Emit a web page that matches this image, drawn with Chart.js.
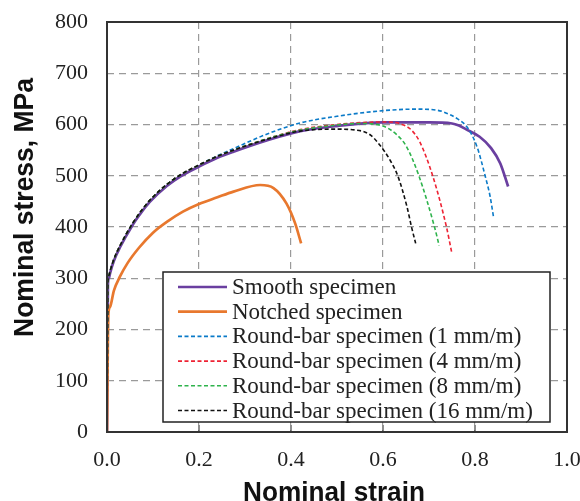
<!DOCTYPE html>
<html>
<head>
<meta charset="utf-8">
<script src="https://cdn.jsdelivr.net/npm/chart.js@4.4.1/dist/chart.umd.min.js"></script>
<style>
  html, body { margin: 0; padding: 0; background: #fff; }
  canvas { display: block; }
</style>
</head>
<body>
<canvas id="myChart" width="580" height="501"></canvas>
<script>
// axis ticks and titles
const strainTicks = [0, 0.2, 0.4, 0.6, 0.8, 1.0]
const stressTicks = [0, 100, 200, 300, 400, 500, 600, 700, 800]
const xTitle = 'Nominal strain'
const yTitle = 'Nominal stress, MPa'

// series names
const seriesNames = ['Smooth specimen', 'Notched specimen', 'Round-bar specimen (1 mm/m)',
    'Round-bar specimen (4 mm/m)', 'Round-bar specimen (8 mm/m)', 'Round-bar specimen (16 mm/m)']

// smooth specimen
const smoothStrain = [0, 0.002, 0.004, 0.007, 0.015, 0.028, 0.057, 0.075, 0.093, 0.13, 0.16, 0.2, 0.24, 0.275, 0.347, 0.42, 0.5, 0.6, 0.7, 0.75, 0.765, 0.78, 0.81, 0.835, 0.855, 0.872]
const smoothStress = [0, 290, 300, 311, 334, 360, 406, 429, 449, 480, 499, 518, 535, 547, 569, 587, 597, 604, 604, 602, 598, 591, 576, 554, 524, 479]

// notched specimen
const notchedStrain = [0, 0.003, 0.0065, 0.015, 0.028, 0.045, 0.07, 0.1, 0.13, 0.165, 0.2, 0.24, 0.275, 0.333, 0.362, 0.39, 0.409, 0.422]
const notchedStress = [0, 230, 244, 276, 303, 330, 360, 389, 410, 430, 445, 458, 469, 482, 476, 446, 407, 368]

// round-bar 1 mm/m
const rb1Strain = [0, 0.002, 0.004, 0.007, 0.015, 0.028, 0.057, 0.075, 0.093, 0.13, 0.16, 0.2, 0.24, 0.275, 0.347, 0.42, 0.5, 0.6, 0.673, 0.717, 0.746, 0.762, 0.778, 0.79, 0.805, 0.822, 0.833, 0.84]
const rb1Stress = [0, 295, 305, 315, 337, 363, 409, 432, 452, 483, 502, 521, 539, 553, 581, 603, 616, 627, 630, 628, 619, 611, 600, 585, 555, 500, 459, 421]

// round-bar 4 mm/m
const rb4Strain = [0, 0.002, 0.004, 0.007, 0.015, 0.028, 0.057, 0.075, 0.093, 0.13, 0.16, 0.2, 0.24, 0.275, 0.347, 0.42, 0.5, 0.6, 0.625, 0.645, 0.662, 0.68, 0.708, 0.738, 0.749]
const rb4Stress = [0, 295, 305, 315, 337, 363, 409, 432, 452, 483, 502, 521, 538, 550, 572, 590, 600, 605, 604, 599, 589, 566, 500, 400, 352]

// round-bar 8 mm/m
const rb8Strain = [0, 0.002, 0.004, 0.007, 0.015, 0.028, 0.057, 0.075, 0.093, 0.13, 0.16, 0.2, 0.24, 0.275, 0.347, 0.42, 0.5, 0.55, 0.6, 0.63, 0.651, 0.678, 0.712, 0.722]
const rb8Stress = [0, 295, 305, 315, 337, 363, 409, 432, 452, 483, 502, 521, 538, 550, 572, 589, 599, 602, 597, 580, 557, 500, 400, 364]

// round-bar 16 mm/m
const rb16Strain = [0, 0.002, 0.004, 0.007, 0.015, 0.028, 0.057, 0.075, 0.093, 0.13, 0.16, 0.2, 0.24, 0.275, 0.347, 0.42, 0.492, 0.543, 0.572, 0.593, 0.615, 0.632, 0.652, 0.662, 0.671]
const rb16Stress = [0, 295, 305, 315, 337, 363, 409, 432, 452, 483, 502, 521, 538, 550, 571, 587, 591, 589, 580, 560, 531, 500, 440, 400, 368]

const toPoints = (xs, ys) => xs.map((x, i) => ({ x: x, y: ys[i] }))

const serif = "'Liberation Serif', 'Times New Roman', serif"
const sans = "'Liberation Sans', Arial, sans-serif"

function makeSet(label, xs, ys, color, dashed, order) {
    return {
        label: label,
        data: toPoints(xs, ys),
        borderColor: color,
        backgroundColor: color,
        borderWidth: dashed ? 1.6 : 2.7,
        borderDash: dashed ? [4, 2.5] : [],
        cubicInterpolationMode: 'monotone',
        pointRadius: 0,
        fill: false,
        order: order
    }
}

// frame, inner ticks, legend box and axis titles
const framePlugin = {
    id: 'frame',
    afterDatasetsDraw(chart) {
        const ctx = chart.ctx
        const a = chart.chartArea
        const xs = chart.scales.x

        ctx.save()
        // small inward ticks on the bottom axis
        ctx.strokeStyle = '#444'
        ctx.lineWidth = 1.2
        strainTicks.forEach(v => {
            const px = xs.getPixelForValue(v)
            ctx.beginPath()
            ctx.moveTo(px, a.bottom)
            ctx.lineTo(px, a.bottom - 7)
            ctx.stroke()
        })

        // legend
        const lx = 163, ly = 272, lw = 387, lh = 150
        ctx.fillStyle = '#fff'
        ctx.fillRect(lx, ly, lw, lh)
        ctx.strokeStyle = '#222'
        ctx.lineWidth = 1.5
        ctx.strokeRect(lx, ly, lw, lh)
        ctx.font = '23px ' + serif
        ctx.textBaseline = 'middle'
        ctx.textAlign = 'left'
        chart.data.datasets.forEach((ds, i) => {
            const cy = ly + 15 + i * 24.7
            ctx.strokeStyle = ds.borderColor
            ctx.lineWidth = ds.borderWidth
            ctx.setLineDash(ds.borderDash)
            ctx.beginPath()
            ctx.moveTo(178, cy)
            ctx.lineTo(227, cy)
            ctx.stroke()
            ctx.setLineDash([])
            ctx.fillStyle = '#222'
            ctx.fillText(ds.label, 232, cy + 1)
        })

        // plot frame
        ctx.strokeStyle = '#333'
        ctx.lineWidth = 2
        ctx.strokeRect(a.left, a.top, a.right - a.left, a.bottom - a.top)

        // axis titles (slightly condensed bold sans)
        ctx.fillStyle = '#111'
        ctx.font = 'bold 28px ' + sans
        ctx.textAlign = 'center'
        ctx.textBaseline = 'alphabetic'

        ctx.save()
        ctx.translate(334, 501)
        ctx.scale(0.935, 1)
        ctx.fillText(xTitle, 0, 0)
        ctx.restore()

        ctx.save()
        ctx.translate(33, 207.5)
        ctx.rotate(-Math.PI / 2)
        ctx.scale(0.945, 1)
        ctx.fillText(yTitle, 0, 0)
        ctx.restore()

        ctx.restore()
    }
}

const ctx = document.getElementById('myChart').getContext('2d')

const myChart = new Chart(ctx, {
    type: 'line',
    data: {
        datasets: [
            makeSet(seriesNames[0], smoothStrain, smoothStress, '#6a3fa0', false, 10),
            makeSet(seriesNames[1], notchedStrain, notchedStress, '#e8782e', false, 9),
            makeSet(seriesNames[2], rb1Strain, rb1Stress, '#0a7ac8', true, 4),
            makeSet(seriesNames[3], rb4Strain, rb4Stress, '#ee2233', true, 3),
            makeSet(seriesNames[4], rb8Strain, rb8Stress, '#2eb34c', true, 2),
            makeSet(seriesNames[5], rb16Strain, rb16Stress, '#111111', true, 1)
        ]
    },
    options: {
        responsive: false,
        animation: false,
        devicePixelRatio: 1,
        layout: { padding: { left: 0, right: 13, top: 22, bottom: 0 } },
        plugins: {
            legend: { display: false },
            tooltip: { enabled: false }
        },
        scales: {
            x: {
                type: 'linear',
                min: 0,
                max: 1,
                afterBuildTicks: s => { s.ticks = strainTicks.map(v => ({ value: v })) },
                afterFit: s => { s.height = 69; s.paddingLeft = 0; s.paddingRight = 0 },
                ticks: {
                    color: '#222',
                    padding: 15,
                    maxRotation: 0,
                    font: { family: serif, size: 22 },
                    callback: v => Number(v).toFixed(1)
                },
                grid: { color: '#9a9a9a', lineWidth: 1.2, drawTicks: false },
                border: { display: false, dash: [7, 5] }
            },
            y: {
                type: 'linear',
                min: 0,
                max: 800,
                afterBuildTicks: s => { s.ticks = stressTicks.map(v => ({ value: v })) },
                afterFit: s => { s.width = 107; s.paddingTop = 0; s.paddingBottom = 0 },
                ticks: {
                    color: '#222',
                    padding: 19,
                    font: { family: serif, size: 22 }
                },
                grid: { color: '#9a9a9a', lineWidth: 1.2, drawTicks: false },
                border: { display: false, dash: [7, 5] }
            }
        }
    },
    plugins: [framePlugin]
})
</script>
</body>
</html>
